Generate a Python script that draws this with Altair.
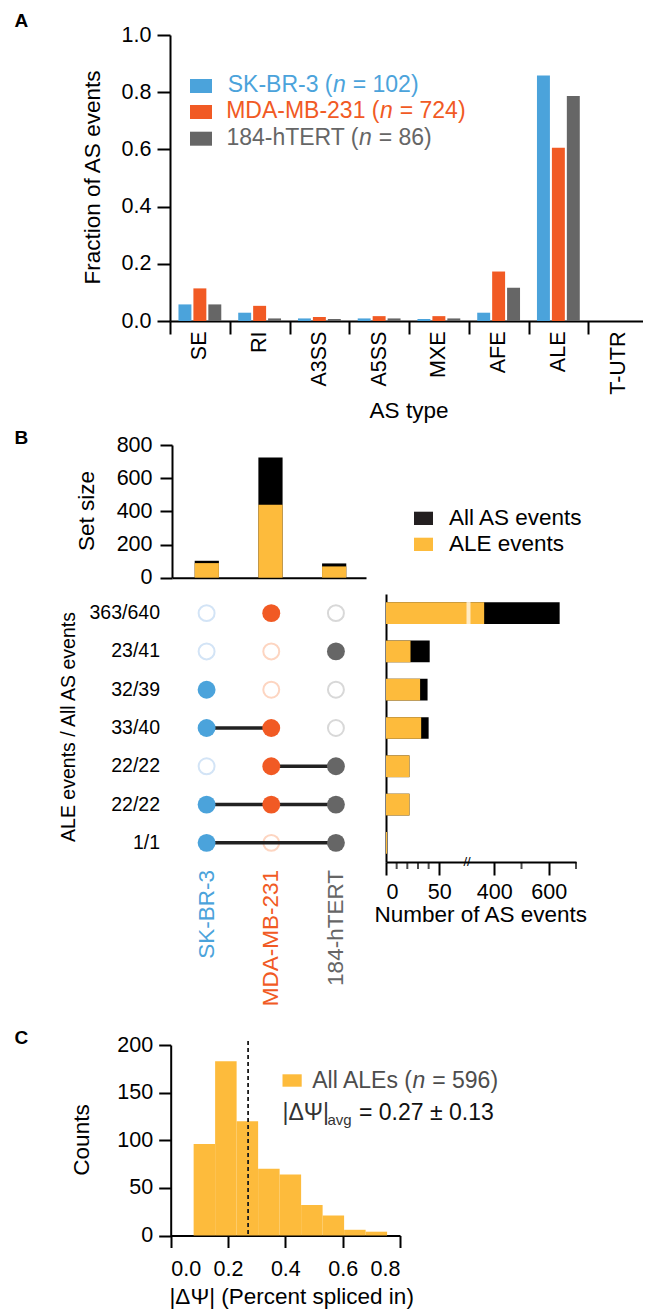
import altair as alt
import pandas as pd

# ---------------- data ----------------
as_types = ["SE", "RI", "A3SS", "A5SS", "MXE", "AFE", "ALE", "T-UTR"]
cell_lines = ["SK-BR-3", "MDA-MB-231", "184-hTERT"]
n_events = [102, 724, 86]
frac_skbr3 = [0.058, 0.029, 0.009, 0.009, 0.007, 0.029, 0.858, 0.0]
frac_mda = [0.114, 0.053, 0.014, 0.017, 0.017, 0.173, 0.606, 0.0]
frac_htert = [0.058, 0.009, 0.007, 0.009, 0.009, 0.116, 0.787, 0.0]

set_all = [102, 724, 86]
set_ale = [88, 440, 68]

combo_labels = ["363/640", "23/41", "32/39", "33/40", "22/22", "22/22", "1/1"]
combo_ale = [363, 23, 32, 33, 22, 22, 1]
combo_all = [640, 41, 39, 40, 22, 22, 1]
combo_members = [[0, 1, 0], [0, 0, 1], [1, 0, 0], [1, 1, 0], [0, 1, 1], [1, 1, 1], [1, 0, 1]]

dpsi_bin_edges = [0.08, 0.155, 0.23, 0.305, 0.38, 0.455, 0.53, 0.605, 0.68, 0.755]
dpsi_counts = [96, 183, 120, 70, 64, 32, 21, 6, 4]
dpsi_mean = 0.27
dpsi_sd = 0.13
n_ale = 596

# ---------------- style / layout ----------------
W, H = 635, 1303
FONT = "Liberation Sans"
BLUE, ORANGE, GRAY = "#4ba3db", "#f15a24", "#666666"
LBLUE, LORANGE, LGRAY = "#d3e4f6", "#fdd5c1", "#d8d8d8"
YELLOW, BLACK = "#fdbb3c", "#000000"
LINE_COLORS = [BLUE, ORANGE, GRAY]
TICK_FS = 21.5
TITLE_FS = 22.5

dummy = pd.DataFrame({"d": [0]})


def label(text, x, y, size=TITLE_FS, color="#000000", align="center", baseline="middle",
          angle=0, style="normal", weight="normal"):
    return alt.Chart(dummy).mark_text(
        text=text, fontSize=size, color=color, align=align, baseline=baseline,
        angle=angle, fontStyle=style, fontWeight=weight, font=FONT
    ).encode(x=alt.value(x), y=alt.value(y))


def box(x0, x1, y0, y1, color):
    return alt.Chart(dummy).mark_rect(color=color).encode(
        x=alt.value(x0), x2=alt.value(x1), y=alt.value(y0), y2=alt.value(y1))


# ---------------- panel A ----------------
rowsA = []
for line, fr in zip(cell_lines, [frac_skbr3, frac_mda, frac_htert]):
    for t, f in zip(as_types, fr):
        rowsA.append({"type": t, "line": line, "frac": f})
dfA = pd.DataFrame(rowsA)

panelA = alt.Chart(dfA).mark_bar().encode(
    x=alt.X("type:N", sort=as_types,
            scale=alt.Scale(domain=as_types, range=[162, 640], paddingInner=0, paddingOuter=0),
            axis=alt.Axis(orient="bottom", offset=313 - H, title=None, labelAngle=270,
                          labelAlign="right", labelBaseline="middle", tickBand="extent",
                          tickSize=13, labelPadding=-3, labelFontSize=TICK_FS)),
    xOffset=alt.XOffset("line:N", sort=cell_lines,
                        scale=alt.Scale(domain=cell_lines, paddingInner=0.133, paddingOuter=0.567)),
    y=alt.Y("frac:Q", scale=alt.Scale(domain=[0, 1], range=[313, 27], nice=False, zero=False),
            axis=alt.Axis(orient="left", offset=-162, values=[0, 0.2, 0.4, 0.6, 0.8, 1.0],
                          format=".1f", title=None, tickSize=13, labelPadding=6,
                          labelFontSize=TICK_FS)),
    color=alt.Color("line:N", scale=alt.Scale(domain=cell_lines, range=LINE_COLORS), legend=None),
)

# ---------------- panel B: set size bars ----------------
dfSets = pd.DataFrame({"set": cell_lines, "all": set_all, "ale": set_ale})
xB = alt.Scale(domain=cell_lines, range=[164, 358], paddingInner=0.62, paddingOuter=0.333, align=0.535)
yB = alt.Scale(domain=[0, 800], range=[569.7, 437], nice=False)
axBx = alt.Axis(orient="bottom", offset=569.7 - H, labels=False, ticks=False, title=None)
axBy = alt.Axis(orient="left", offset=-164, values=[0, 200, 400, 600, 800], title=None,
                tickSize=12, labelPadding=8, labelFontSize=TICK_FS)

b_all = alt.Chart(dfSets).mark_bar(color=BLACK).encode(
    x=alt.X("set:N", scale=xB, axis=axBx),
    y=alt.Y("all:Q", scale=yB, axis=axBy),
)
b_ale = alt.Chart(dfSets).mark_bar(color=YELLOW).encode(
    x=alt.X("set:N", scale=xB, axis=axBx),
    y=alt.Y("ale:Q", scale=yB, axis=axBy),
)
panelBtop = alt.layer(b_all, b_ale)

# ---------------- panel B: matrix ----------------
rid = [str(i) for i in range(len(combo_labels))]
rowsM = []
rowsL = []
for r, mem in zip(rid, combo_members):
    for s, m in zip(cell_lines, mem):
        rowsM.append({"rid": r, "set": s, "member": m})
    idx = [i for i, m in enumerate(mem) if m]
    if len(idx) >= 2:
        rowsL.append({"rid": r, "set": cell_lines[idx[0]]})
        rowsL.append({"rid": r, "set": cell_lines[idx[-1]]})
dfM = pd.DataFrame(rowsM)
dfL = pd.DataFrame(rowsL)
dfRowLab = pd.DataFrame({"rid": rid, "label": combo_labels})
dfSetLab = pd.DataFrame({"set": cell_lines})

yM = alt.Scale(domain=rid, range=[586, 854], paddingInner=0, paddingOuter=0)

m_open = alt.Chart(dfM).transform_filter("datum.member == 0").mark_point(
    shape="circle", filled=False, size=254, strokeWidth=2, opacity=1
).encode(
    x=alt.X("set:N", scale=xB, axis=None),
    y=alt.Y("rid:N", scale=yM, axis=None),
    color=alt.Color("set:N", scale=alt.Scale(domain=cell_lines, range=[LBLUE, LORANGE, LGRAY]), legend=None),
)
m_lines = alt.Chart(dfL).mark_line(color="#222222", strokeWidth=3.5).encode(
    x=alt.X("set:N", scale=xB, axis=None),
    y=alt.Y("rid:N", scale=yM, axis=None),
    detail="rid:N",
)
m_fill = alt.Chart(dfM).transform_filter("datum.member == 1").mark_circle(size=320, opacity=1).encode(
    x=alt.X("set:N", scale=xB, axis=None),
    y=alt.Y("rid:N", scale=yM, axis=None),
    color=alt.Color("set:N", scale=alt.Scale(domain=cell_lines, range=LINE_COLORS), legend=None),
)
m_rowlab = alt.Chart(dfRowLab).mark_text(align="right", baseline="middle", fontSize=19.5,
                                         font=FONT, color="#000000").encode(
    x=alt.value(152),
    y=alt.Y("rid:N", scale=yM, axis=None),
    text="label:N",
)
m_setlab = alt.Chart(dfSetLab).mark_text(align="right", baseline="middle", angle=270,
                                         fontSize=TITLE_FS, font=FONT).encode(
    x=alt.X("set:N", scale=xB, axis=None),
    y=alt.value(862),
    text="set:N",
    color=alt.Color("set:N", scale=alt.Scale(domain=cell_lines, range=LINE_COLORS), legend=None),
)
panelBmatrix = alt.layer(m_open, m_lines, m_fill, m_rowlab, m_setlab).resolve_scale(color="independent")

# ---------------- panel B: combination bars (broken axis) ----------------
dfR = pd.DataFrame({"rid": rid, "ale": combo_ale, "all": combo_all})
xR = alt.Scale(domain=[0, 76, 300, 700], range=[378, 459, 459, 568], nice=False, zero=False)
yR = alt.Scale(domain=rid, range=[586, 854], paddingInner=0.433, paddingOuter=0.2165)
axRx = alt.Axis(orient="bottom", offset=854 - H, values=[0, 50, 400, 600], title=None,
                tickSize=13, labelPadding=6, labelFontSize=TICK_FS)
axRy = alt.Axis(orient="left", offset=-378, labels=False, ticks=False, title=None)

r_all = alt.Chart(dfR).mark_bar(color=BLACK).encode(
    x=alt.X("all:Q", scale=xR, axis=axRx),
    y=alt.Y("rid:N", scale=yR, axis=axRy),
)
r_ale = alt.Chart(dfR).mark_bar(color=YELLOW).encode(
    x=alt.X("ale:Q", scale=xR, axis=axRx),
    y=alt.Y("rid:N", scale=yR, axis=axRy),
)
dfBreak = pd.DataFrame({"rid": ["0"], "v": [300]})
r_gap = alt.Chart(dfBreak).mark_tick(color="white", thickness=4, size=24, xOffset=1.5).encode(
    x=alt.X("v:Q", scale=xR, axis=axRx),
    y=alt.Y("rid:N", scale=yR, axis=axRy),
)
dfMinor = pd.DataFrame({"v": [10, 20, 30, 40, 500, 700]})
r_minor = alt.Chart(dfMinor).mark_tick(color="black", thickness=2, size=7).encode(
    x=alt.X("v:Q", scale=xR, axis=axRx),
    y=alt.value(857.5),
)
r_breaksym = alt.Chart(dfBreak).mark_text(text="//", fontSize=13, font=FONT, color="#000000",
                                          baseline="middle", align="center").encode(
    x=alt.X("v:Q", scale=xR, axis=axRx),
    y=alt.value(854),
)
panelBright = alt.layer(r_all, r_ale, r_gap, r_minor, r_breaksym)

# ---------------- panel C ----------------
dfC = pd.DataFrame({"b0": dpsi_bin_edges[:-1], "b1": dpsi_bin_edges[1:], "count": dpsi_counts})
xC = alt.Scale(domain=[0, 0.8], range=[162.7, 392], nice=False, zero=False)
yC = alt.Scale(domain=[0, 200], range=[1227.5, 1037], nice=False)
axCx = alt.Axis(orient="bottom", offset=1227.5 - H, values=[0, 0.2, 0.4, 0.6, 0.8], format=".1f",
                title=None, tickSize=12, labelPadding=11, labelFontSize=TICK_FS)
axCy = alt.Axis(orient="left", offset=-162.7, values=[0, 50, 100, 150, 200], title=None,
                tickSize=12, labelPadding=6, labelFontSize=TICK_FS)

c_bars = alt.Chart(dfC).mark_rect(color=YELLOW).encode(
    x=alt.X("b0:Q", scale=xC, axis=axCx),
    x2="b1:Q",
    y=alt.Y("count:Q", scale=yC, axis=axCy),
    y2=alt.datum(0),
)
c_mean = alt.Chart(pd.DataFrame({"m": [dpsi_mean]})).mark_rule(
    color="#1a1a1a", strokeDash=[4, 3], strokeWidth=1.8
).encode(
    x=alt.X("m:Q", scale=xC, axis=axCx),
    y=alt.value(1033),
    y2=alt.value(1227.5),
)
panelC = alt.layer(c_bars, c_mean)

# ---------------- annotations ----------------
ann = [
    label("A", 6.5, 19, size=19, align="left", baseline="alphabetic", weight="bold"),
    label("B", 6.5, 436, size=19, align="left", baseline="alphabetic", weight="bold"),
    label("C", 6.5, 1036, size=19, align="left", baseline="alphabetic", weight="bold"),
    label("Fraction of AS events", 84.7, 169.5, angle=270),
    label("AS type", 401, 402.7),
    label("Set size", 79, 503, angle=270),
    label("ALE events / All AS events", 60.5, 719, size=19.5, angle=270),
    label("Number of AS events", 472.8, 906.5),
    label("Counts", 74, 1132, angle=270),
    label("|\u0394\u03a8| (Percent spliced in)", 283.7, 1289),
]

# panel A legend
legA_y = [77.3, 103.3, 129.8]
legA_box = [(71, 85), (97, 111), (123.7, 137.7)]
legA_nx = [325, 372, 351]
for line, n, col, y, (y0, y1), nx in zip(cell_lines, n_events, LINE_COLORS, legA_y, legA_box, legA_nx):
    ann.append(box(182, 204, y0, y1, col))
    ann.append(label(f"{line} (", nx - 0.5, y, size=23, color=col, align="right"))
    ann.append(label("n", nx, y, size=23, color=col, align="left", style="italic"))
    ann.append(label(f"= {n})", nx + 19.7, y, size=23, color=col, align="left"))

# panel B legend
ann += [
    box(406, 425, 503.7, 517, "#231f20"),
    box(406, 425, 529.7, 543, YELLOW),
    label("All AS events", 441, 509.5, align="left"),
    label("ALE events", 441, 536, align="left"),
]

# panel C legend
CTXT = "#4d4d4d"
ann += [
    box(274.5, 293.7, 1066.3, 1078.7, YELLOW),
    label("All ALEs (", 404, 1073, size=23, color=CTXT, align="right"),
    label("n", 404.5, 1073, size=23, color=CTXT, align="left", style="italic"),
    label(f"= {n_ale})", 424.2, 1073, size=23, color=CTXT, align="left"),
    label("|\u0394\u03a8|", 274.5, 1105, size=23, color="#333333", align="left"),
    label("avg", 319.5, 1112, size=15, color="#333333", align="left"),
    label(f"= {dpsi_mean:.2f} \u00b1 {dpsi_sd:.2f}", 351, 1105, size=23, color="#111111", align="left"),
]

chart = alt.layer(
    panelA, panelBtop, panelBmatrix, panelBright, panelC, *ann
).resolve_scale(
    x="independent", y="independent", color="independent"
).properties(
    width=W, height=H, padding=0, autosize=alt.AutoSizeParams(type="none")
).configure_view(
    stroke=None
).configure_axis(
    domainColor="#000000", tickColor="#000000", domainWidth=2, tickWidth=2,
    labelFont=FONT, labelColor="#000000", titleFont=FONT, grid=False
)

chart.save("out.html", embed_options={"renderer": "svg", "actions": False})
